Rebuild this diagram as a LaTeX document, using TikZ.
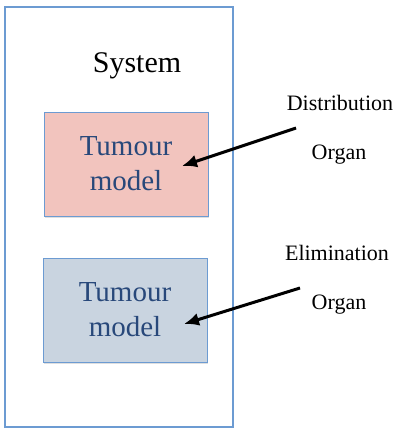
\documentclass[tikz,border=0pt]{standalone}
\usepackage{fontspec}
\setmainfont{Liberation Serif}
\usepackage{tikz}
\usetikzlibrary{arrows.meta,shadows}
\definecolor{frameblue}{RGB}{108,155,210}
\definecolor{pinkfill}{RGB}{242,196,190}
\definecolor{greyfill}{RGB}{201,212,224}
\definecolor{textblue}{RGB}{40,72,122}
\tikzset{
  tumbox/.style={draw=frameblue, line width=1pt, minimum width=164pt, minimum height=104pt,
    align=center, text=textblue, font=\fontsize{29}{35}\selectfont,
    drop shadow={opacity=0.25, shadow xshift=1pt, shadow yshift=-2pt}},
  organ/.style={font=\fontsize{22}{26}\selectfont},
  feed/.style={-{Latex[length=15pt,width=13pt]}, line width=3pt}
}

\begin{document}
\begin{tikzpicture}[x=1pt,y=-1pt]
\useasboundingbox (0,0) rectangle (396,429);
\node[draw=frameblue, line width=1.2pt, minimum width=228pt, minimum height=420pt] (sys) at (119,217) {};
\node[font=\fontsize{30}{36}\selectfont] (title) at (137,66) {System};
\node[tumbox, fill=pinkfill] (dist) at (126,164) {Tumour\\model};
\node[tumbox, fill=greyfill] (elim) at (125,310) {Tumour\\model};
\node[organ] (distlab) at (340,103) {Distribution};
\node[organ] (distorg) at (339,155) {Organ};
\node[organ] (elimlab) at (337,253) {Elimination};
\node[organ] (elimorg) at (339,305) {Organ};
\coordinate (d0) at (296,128);
\coordinate (d1) at (182,166);
\coordinate (e0) at (300,288);
\coordinate (e1) at (184,324);
\draw[feed] (d0) -- (d1);
\draw[feed] (e0) -- (e1);
\end{tikzpicture}
\end{document}
